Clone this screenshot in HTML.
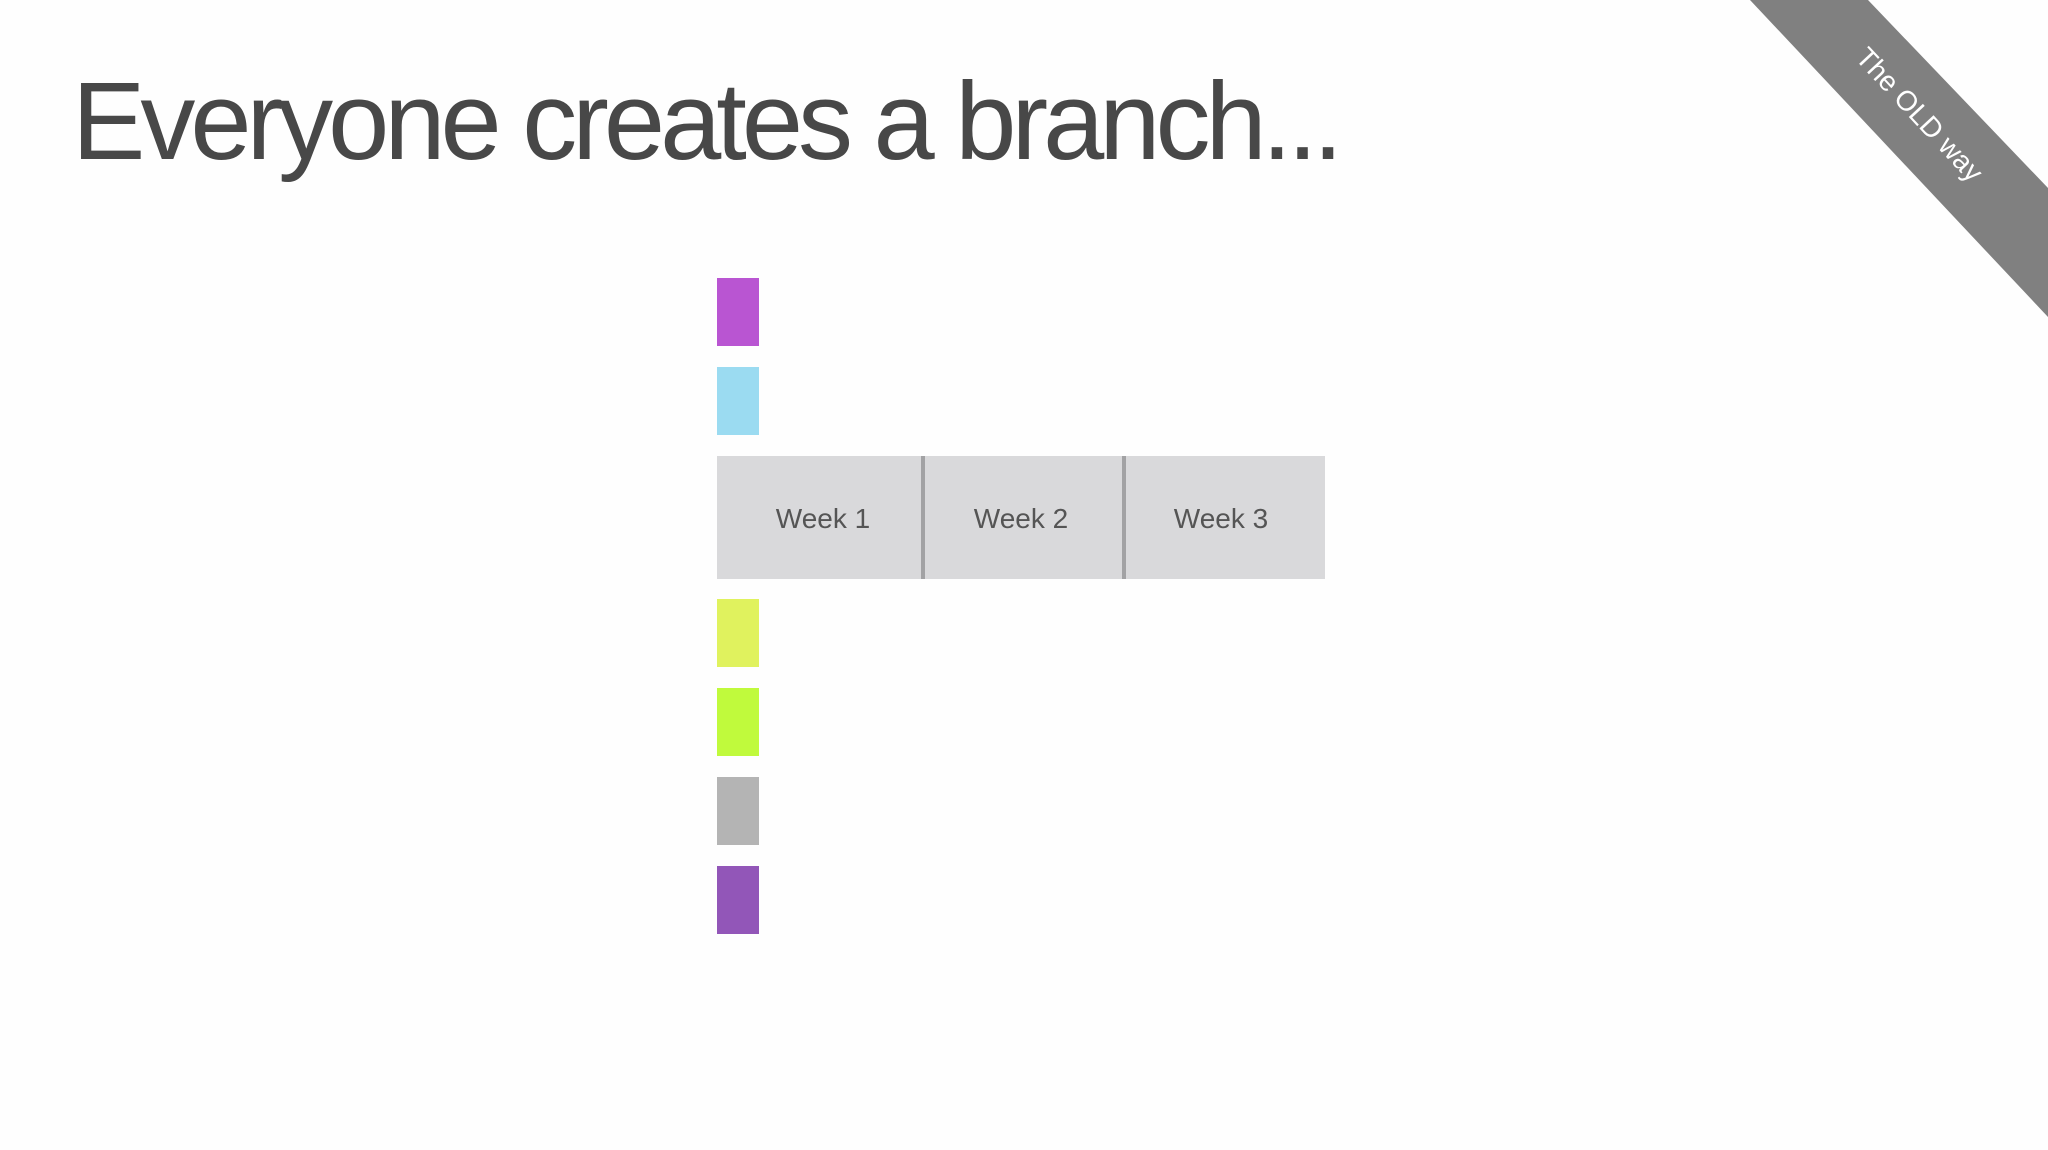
<!DOCTYPE html>
<html><head><meta charset="utf-8"><style>
html,body{margin:0;padding:0;}
body{width:2048px;height:1150px;background:#fefefe;position:relative;overflow:hidden;font-family:"Liberation Sans",sans-serif;}
.t{position:absolute;left:72px;top:58px;font-size:110px;color:#484848;white-space:nowrap;letter-spacing:-5px;}
.b{position:absolute;left:717px;width:42px;height:68px;}
.bar{position:absolute;left:717px;top:456px;width:608px;height:123px;background:#d9d9db;}
.d{position:absolute;top:0;width:4px;height:123px;background:#a2a2a4;}
.w{position:absolute;top:47px;font-size:28px;color:#555;width:160px;text-align:center;margin-left:-80px;}
</style></head><body>
<div class="t">Everyone creates a branch...</div>
<div class="b" style="top:278px;background:#b955d2"></div>
<div class="b" style="top:367px;background:#9bdbf1"></div>
<div class="bar">
<div class="d" style="left:204px"></div>
<div class="d" style="left:405px"></div>
<div class="w" style="left:106px">Week 1</div>
<div class="w" style="left:304px">Week 2</div>
<div class="w" style="left:504px">Week 3</div>
</div>
<div class="b" style="top:599px;background:#e0f25e"></div>
<div class="b" style="top:688px;background:#c0fa3c"></div>
<div class="b" style="top:777px;background:#b4b4b4"></div>
<div class="b" style="top:866px;background:#9256b8"></div>
<svg style="position:absolute;left:0;top:0" width="2048" height="1150">
<polygon points="1750,0 1868,0 2048,188 2048,317" fill="#808080"/>
<text x="1918" y="116" fill="#fff" font-family="Liberation Sans, sans-serif" font-size="28" text-anchor="middle" dominant-baseline="middle" transform="rotate(47 1918 116)">The OLD way</text>
</svg>
</body></html>
